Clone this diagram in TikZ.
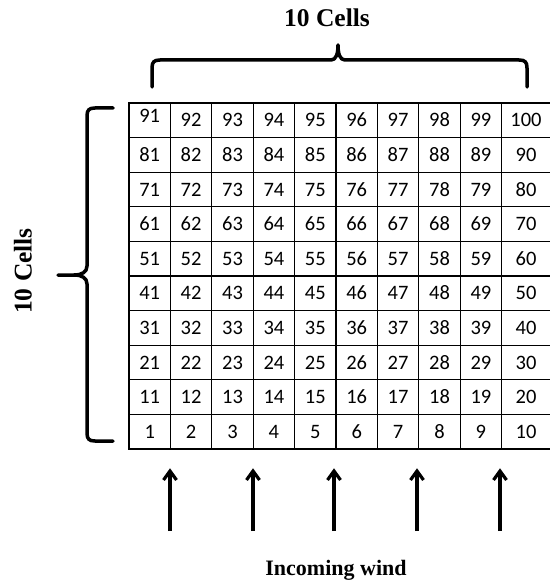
\documentclass[tikz,border=0pt]{standalone}
\usepackage{fontspec}
\setmainfont{Liberation Serif}
\newfontfamily\cellfont{Carlito}
\tikzset{
  gridline/.style={line width=1.3pt, black},
  cell/.style={font=\cellfont\fontsize{20.5}{22}\selectfont, inner sep=0pt, text height=13pt, text depth=0pt},
  brace/.style={line width=3.5pt, black, line cap=round, line join=round},
  label/.style={font=\bfseries\fontsize{25.5}{28}\selectfont, inner sep=0pt},
  wind/.style={line width=3.2pt, black},
  windhead/.style={line width=3.2pt, black, line join=miter, miter limit=10}
}
\begin{document}
\begin{tikzpicture}[x=1pt,y=-1pt]
\useasboundingbox (0,0) rectangle (549,580);
% grid
\draw[gridline] (129,103) rectangle (553,449);
\foreach \xx in {170.4,211.8,253.2,294.6,336,377.4,418.8,460.2,501.6}
  \draw[gridline] (\xx,103) -- (\xx,449);
\foreach \r in {1,...,9}
  \draw[gridline] (129,{103+34.6*\r}) -- (553,{103+34.6*\r});
% numbers
\foreach \r in {0,...,9}{
  \foreach \c in {0,...,9}{
    \pgfmathtruncatemacro\n{\r*10+\c+1}
    \pgfmathsetmacro\xx{\c<9 ? 129+41.4*(\c+0.5) : 526}
    \pgfmathsetmacro\yy{449-34.6*(\r+0.5)}
    \ifnum\n=91
      \node[cell] (c\n) at (\xx,\yy-4) {\n};
    \else
      \node[cell] (c\n) at (\xx,\yy) {\n};
    \fi
  }
}
% top brace
\draw[brace] (152,87) -- (152,68) .. controls (152,62) and (154,60) .. (160,60)
  -- (331,60) .. controls (336,60) and (338,54) .. (338,45)
  .. controls (338,54) and (340,60) .. (345,60)
  -- (519,60) .. controls (525,60) and (527,62) .. (527,68) -- (527,87);
\node[label] (toplabel) at (327,18) {10 Cells};
% left brace
\draw[brace] (113,108) -- (95,108) .. controls (89,108) and (87,110) .. (87,116)
  -- (87,266) .. controls (87,272) and (82,275) .. (74,275) -- (58,275)
  -- (74,275) .. controls (82,275) and (87,278) .. (87,284)
  -- (87,433) .. controls (87,439) and (89,441) .. (95,441) -- (113,441);
\node[label, rotate=90] (leftlabel) at (23,271) {10 Cells};
% wind arrows
\foreach \i/\xx in {1/170,2/253,3/334,4/417,5/500}{
  \coordinate (w\i b) at (\xx,531);
  \coordinate (w\i t) at (\xx,471);
  \draw[wind] (w\i b) -- ([yshift=-2pt]w\i t);
  \draw[windhead] ([shift={(-6.5,9)}]w\i t) -- (w\i t) -- ([shift={(6.5,9)}]w\i t);
}
\node[font=\bfseries\fontsize{22}{26}\selectfont, inner sep=0pt, anchor=base] (windlabel) at (336,575) {Incoming wind};
\end{tikzpicture}
\end{document}
